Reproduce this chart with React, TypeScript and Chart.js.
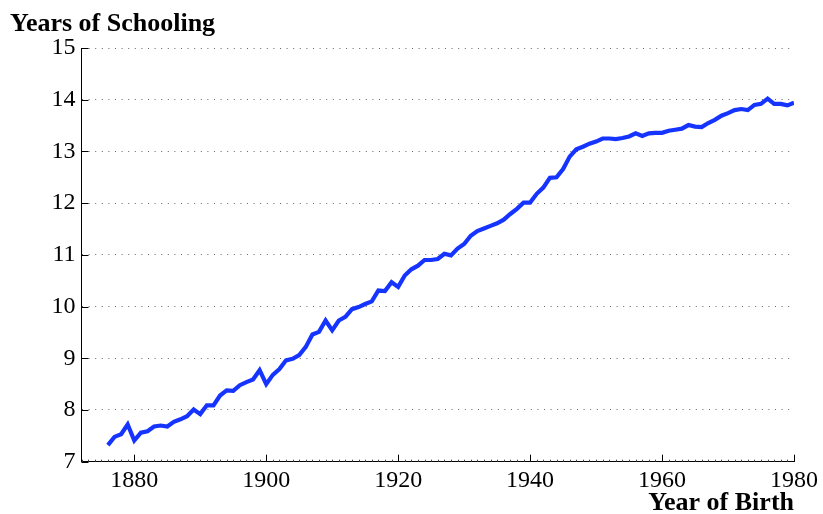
import React, { useEffect, useRef } from "react";
import { Chart, registerables } from "chart.js";

Chart.register(...registerables);

const years = [
  1876, 1877, 1878, 1879, 1880, 1881, 1882, 1883, 1884, 1885,
  1886, 1887, 1888, 1889, 1890, 1891, 1892, 1893, 1894, 1895,
  1896, 1897, 1898, 1899, 1900, 1901, 1902, 1903, 1904, 1905,
  1906, 1907, 1908, 1909, 1910, 1911, 1912, 1913, 1914, 1915,
  1916, 1917, 1918, 1919, 1920, 1921, 1922, 1923, 1924, 1925,
  1926, 1927, 1928, 1929, 1930, 1931, 1932, 1933, 1934, 1935,
  1936, 1937, 1938, 1939, 1940, 1941, 1942, 1943, 1944, 1945,
  1946, 1947, 1948, 1949, 1950, 1951, 1952, 1953, 1954, 1955,
  1956, 1957, 1958, 1959, 1960, 1961, 1962, 1963, 1964, 1965,
  1966, 1967, 1968, 1969, 1970, 1971, 1972, 1973, 1974, 1975,
  1976, 1977, 1978, 1979, 1980,
];

const schooling = [
  7.32, 7.48, 7.53, 7.72, 7.41, 7.56, 7.59, 7.68, 7.70, 7.68,
  7.77, 7.82, 7.88, 8.01, 7.92, 8.09, 8.09, 8.28, 8.38, 8.37,
  8.48, 8.54, 8.59, 8.77, 8.50, 8.68, 8.79, 8.96, 8.99, 9.06,
  9.22, 9.46, 9.51, 9.73, 9.54, 9.73, 9.80, 9.95, 9.99, 10.05,
  10.10, 10.31, 10.30, 10.47, 10.38, 10.60, 10.72, 10.79, 10.90, 10.90,
  10.92, 11.02, 10.99, 11.12, 11.21, 11.37, 11.46, 11.51, 11.56, 11.61,
  11.68, 11.79, 11.89, 12.01, 12.01, 12.18, 12.30, 12.49, 12.50, 12.66,
  12.90, 13.04, 13.09, 13.15, 13.19, 13.25, 13.25, 13.24, 13.26, 13.29,
  13.35, 13.30, 13.35, 13.36, 13.36, 13.40, 13.42, 13.44, 13.51, 13.48,
  13.47, 13.55, 13.61, 13.69, 13.74, 13.80, 13.82, 13.80, 13.90, 13.92,
  14.02, 13.92, 13.92, 13.89, 13.94,
];

const xTickValues = [1880, 1900, 1920, 1940, 1960, 1980];
const yTickValues = [7, 8, 9, 10, 11, 12, 13, 14, 15];
const xMin = 1872;
const xMax = 1980;
const yMin = 7;
const yMax = 15;

const yTitle = "Years of Schooling";
const xTitle = "Year of Birth";

const SERIF = "'Liberation Serif', 'Times New Roman', serif";

const axisTicksPlugin = {
  id: "axisTicks",
  afterDraw(chart: any) {
    const { ctx, chartArea, scales } = chart;
    const xs = scales.x;
    const ys = scales.y;
    ctx.save();
    ctx.strokeStyle = "#444";
    ctx.lineWidth = 1;
    ctx.beginPath();
    for (let v = xMin; v <= xMax; v += 1) {
      const px = Math.round(xs.getPixelForValue(v)) + 0.5;
      ctx.moveTo(px, chartArea.bottom);
      ctx.lineTo(px, chartArea.bottom - 2);
    }
    ctx.stroke();
    ctx.strokeStyle = "#000";
    ctx.beginPath();
    for (const v of xTickValues) {
      const px = Math.round(xs.getPixelForValue(v)) + 0.5;
      ctx.moveTo(px, chartArea.bottom);
      ctx.lineTo(px, chartArea.bottom - 7);
    }
    for (const v of yTickValues) {
      const py = Math.round(ys.getPixelForValue(v)) + 0.5;
      ctx.moveTo(chartArea.left, py);
      ctx.lineTo(chartArea.left + 7, py);
    }
    ctx.stroke();
    ctx.restore();
  },
};

export default function App() {
  const canvasRef = useRef<HTMLCanvasElement | null>(null);

  useEffect(() => {
    const canvas = canvasRef.current;
    if (!canvas) return;
    const chart = new Chart(canvas, {
      type: "line",
      data: {
        datasets: [
          {
            data: years.map((yr, i) => ({ x: yr, y: schooling[i] })),
            borderColor: "rgb(22, 52, 255)",
            borderWidth: 4.2,
            pointRadius: 0,
            tension: 0,
            fill: false,
          },
        ],
      },
      options: {
        animation: false,
        responsive: false,
        maintainAspectRatio: false,
        layout: { padding: { left: 10, right: 27, top: 0, bottom: 0 } },
        plugins: {
          legend: { display: false },
          tooltip: { enabled: false },
          title: {
            display: true,
            text: yTitle,
            align: "start",
            color: "#000",
            font: { family: SERIF, size: 26, weight: "bold", lineHeight: 1.2 },
            padding: { top: 9, bottom: 7.8 },
          },
        },
        scales: {
          x: {
            type: "linear",
            min: xMin,
            max: xMax,
            afterBuildTicks: (scale: any) => {
              scale.ticks = xTickValues.map((v) => ({ value: v }));
            },
            afterFit: (scale: any) => {
              scale.height = 52.3;
            },
            grid: { display: false, drawTicks: false },
            border: { display: true, color: "#000", width: 1 },
            ticks: {
              color: "#000",
              font: { family: SERIF, size: 24 },
              padding: 5,
              maxRotation: 0,
              autoSkip: false,
              callback: (v: any) => String(v),
            },
            title: {
              display: true,
              text: xTitle,
              align: "end",
              color: "#000",
              font: { family: SERIF, size: 26, weight: "bold", lineHeight: 0.85 },
              padding: { top: 0, bottom: 0 },
            },
          },
          y: {
            type: "linear",
            min: yMin,
            max: yMax,
            afterBuildTicks: (scale: any) => {
              scale.ticks = yTickValues.map((v) => ({ value: v }));
            },
            afterFit: (scale: any) => {
              scale.width = 71.5;
            },
            grid: {
              display: true,
              drawTicks: false,
              color: "#666",
              lineWidth: 1,
            },
            border: { display: true, color: "#000", width: 1, dash: [1, 5.6] },
            ticks: {
              color: "#000",
              font: { family: SERIF, size: 24 },
              padding: 6,
              autoSkip: false,
              callback: (v: any) => String(v),
            },
          },
        },
      },
      plugins: [axisTicksPlugin],
    } as any);
    return () => chart.destroy();
  }, []);

  return (
    <div style={{ position: "fixed", left: 0, top: 0, width: 823, height: 514, background: "#fff" }}>
      <canvas ref={canvasRef} width={823} height={514} style={{ width: 823, height: 514 }} />
    </div>
  );
}
